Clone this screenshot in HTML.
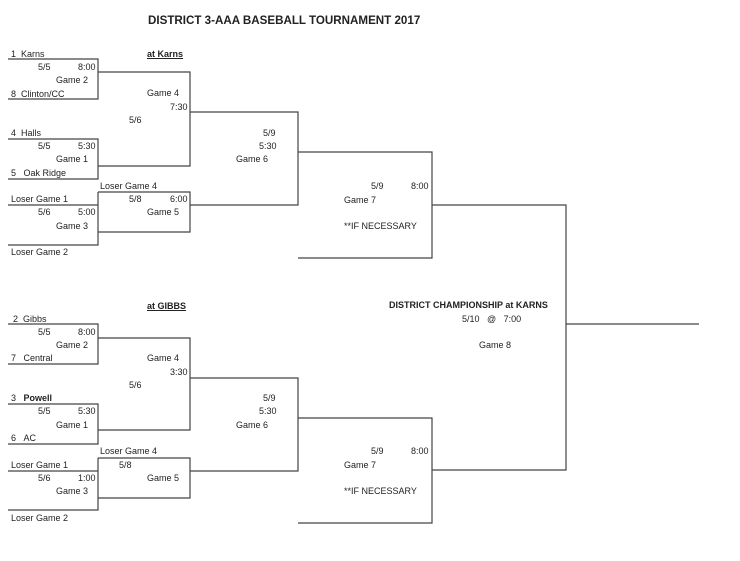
<!DOCTYPE html>
<html><head><meta charset="utf-8"><style>
body{margin:0;width:740px;height:561px;background:#fff;position:relative;overflow:hidden;font-family:"Liberation Sans",sans-serif;}
svg{position:absolute;left:0;top:0}
.t{position:absolute;font-size:9px;line-height:12px;color:#222;white-space:nowrap}
.b{font-weight:bold}
.u{text-decoration:underline}
</style></head><body>
<svg width="740" height="561" stroke="#444" stroke-width="1.2" fill="none">
<path d="M8 59H98V99H8M98 72H190V166H98M8 139H98V179H8M190 112H298V205H190M98 192H190V232H98V192M8 205H98V245H8M298 152H432V258H298M432 205H566V470H432M566 324H699"/>
<path d="M8 324H98V364H8M98 338H190V430H98M8 404H98V444H8M190 378H298V471H190M98 458H190V498H98V458M8 471H98V510H8M298 418H432V523H298"/>
</svg>
<div class="t b" style="left:148px;top:13px;font-size:11.6px;line-height:16px">DISTRICT 3-AAA BASEBALL TOURNAMENT 2017</div>

<div class="t" style="left:11px;top:48px">1&nbsp;&nbsp;Karns</div>
<div class="t b u" style="left:147px;top:48px">at Karns</div>
<div class="t" style="left:38px;top:61px">5/5</div><div class="t" style="left:78px;top:61px">8:00</div>
<div class="t" style="left:56px;top:74px">Game 2</div>
<div class="t" style="left:11px;top:88px">8&nbsp;&nbsp;Clinton/CC</div>
<div class="t" style="left:147px;top:87px">Game 4</div>
<div class="t" style="left:170px;top:101px">7:30</div>
<div class="t" style="left:129px;top:114px">5/6</div>
<div class="t" style="left:11px;top:127px">4&nbsp;&nbsp;Halls</div>
<div class="t" style="left:38px;top:140px">5/5</div><div class="t" style="left:78px;top:140px">5:30</div>
<div class="t" style="left:56px;top:153px">Game 1</div>
<div class="t" style="left:11px;top:167px">5&nbsp;&nbsp;&nbsp;Oak Ridge</div>
<div class="t" style="left:100px;top:180px">Loser Game 4</div>
<div class="t" style="left:11px;top:193px">Loser Game 1</div>
<div class="t" style="left:129px;top:193px">5/8</div><div class="t" style="left:170px;top:193px">6:00</div>
<div class="t" style="left:38px;top:206px">5/6</div><div class="t" style="left:78px;top:206px">5:00</div>
<div class="t" style="left:147px;top:206px">Game 5</div>
<div class="t" style="left:56px;top:220px">Game 3</div>
<div class="t" style="left:11px;top:246px">Loser Game 2</div>
<div class="t" style="left:263px;top:127px">5/9</div>
<div class="t" style="left:259px;top:140px">5:30</div>
<div class="t" style="left:236px;top:153px">Game 6</div>

<div class="t" style="left:371px;top:180px">5/9</div><div class="t" style="left:411px;top:180px">8:00</div>
<div class="t" style="left:344px;top:194px">Game 7</div>
<div class="t" style="left:344px;top:220px">**IF NECESSARY</div>

<div class="t b" style="left:389px;top:299px">DISTRICT CHAMPIONSHIP at KARNS</div>
<div class="t" style="left:462px;top:313px">5/10&nbsp;&nbsp;&nbsp;@&nbsp;&nbsp;&nbsp;7:00</div>
<div class="t" style="left:479px;top:339px">Game 8</div>

<div class="t b u" style="left:147px;top:300px">at GIBBS</div>
<div class="t" style="left:13px;top:313px">2&nbsp;&nbsp;Gibbs</div>
<div class="t" style="left:38px;top:326px">5/5</div><div class="t" style="left:78px;top:326px">8:00</div>
<div class="t" style="left:56px;top:339px">Game 2</div>
<div class="t" style="left:11px;top:352px">7&nbsp;&nbsp;&nbsp;Central</div>
<div class="t" style="left:147px;top:352px">Game 4</div>
<div class="t" style="left:170px;top:366px">3:30</div>
<div class="t" style="left:129px;top:379px">5/6</div>
<div class="t" style="left:11px;top:392px"><span>3</span>&nbsp;&nbsp;&nbsp;<b>Powell</b></div>
<div class="t" style="left:38px;top:405px">5/5</div><div class="t" style="left:78px;top:405px">5:30</div>
<div class="t" style="left:56px;top:419px">Game 1</div>
<div class="t" style="left:11px;top:432px">6&nbsp;&nbsp;&nbsp;AC</div>
<div class="t" style="left:100px;top:445px">Loser Game 4</div>
<div class="t" style="left:11px;top:459px">Loser Game 1</div>
<div class="t" style="left:119px;top:459px">5/8</div>
<div class="t" style="left:38px;top:472px">5/6</div><div class="t" style="left:78px;top:472px">1:00</div>
<div class="t" style="left:147px;top:472px">Game 5</div>
<div class="t" style="left:56px;top:485px">Game 3</div>
<div class="t" style="left:11px;top:512px">Loser Game 2</div>
<div class="t" style="left:263px;top:392px">5/9</div>
<div class="t" style="left:259px;top:405px">5:30</div>
<div class="t" style="left:236px;top:419px">Game 6</div>

<div class="t" style="left:371px;top:445px">5/9</div><div class="t" style="left:411px;top:445px">8:00</div>
<div class="t" style="left:344px;top:459px">Game 7</div>
<div class="t" style="left:344px;top:485px">**IF NECESSARY</div>
</body></html>
